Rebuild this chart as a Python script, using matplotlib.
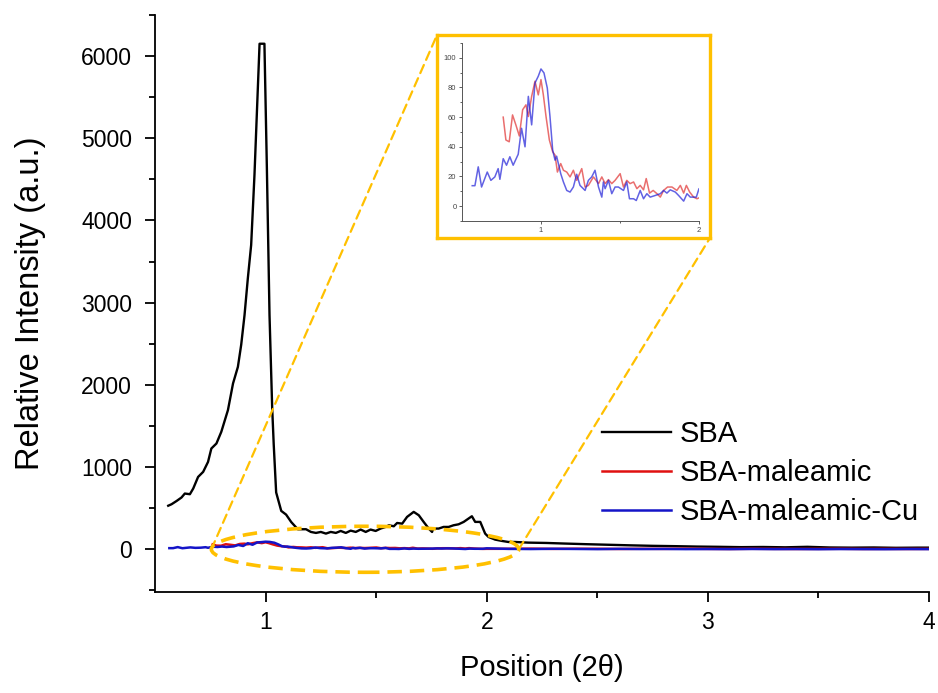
import numpy as np
import matplotlib
matplotlib.use("Agg")
import matplotlib.pyplot as plt
from matplotlib.patches import Ellipse, ConnectionPatch

plt.rcParams["font.family"] = ["Liberation Sans", "DejaVu Sans"]

# SBA (black) pattern
sba_x = [0.56, 0.575, 0.598, 0.62, 0.635, 0.658, 0.673, 0.695, 0.718, 0.74, 0.755,
         0.778, 0.80, 0.83, 0.853, 0.875, 0.89, 0.905, 0.92, 0.935, 0.95, 0.961,
         0.973, 0.995, 1.006, 1.018, 1.03, 1.037, 1.048, 1.071, 1.093, 1.116, 1.146,
         1.183, 1.205, 1.228, 1.25, 1.273, 1.295, 1.318, 1.34, 1.363, 1.385, 1.408,
         1.43, 1.453, 1.475, 1.498, 1.52, 1.543, 1.558, 1.58, 1.595, 1.618, 1.64,
         1.67, 1.693, 1.715, 1.738, 1.753, 1.758, 1.783, 1.805, 1.828, 1.85, 1.873,
         1.896, 1.918, 1.933, 1.948, 1.971, 1.993, 2.008, 2.038, 2.068, 2.098, 2.128,
         2.188, 2.27, 2.35, 2.45, 2.55, 2.65, 2.75, 2.85, 2.95, 3.05, 3.15, 3.25,
         3.35, 3.45, 3.55, 3.65, 3.75, 3.85, 3.95, 4.0]
sba_y = [530, 548, 588, 630, 678, 670, 739, 880, 942, 1063, 1226,
         1287, 1429, 1693, 2017, 2219, 2489, 2848, 3297, 3702, 4555, 5319,
         6150, 6150, 4645, 2848, 1725, 1276, 692, 467, 422, 332, 243,
         244, 211, 199, 211, 191, 211, 199, 223, 199, 227, 211,
         240, 211, 240, 223, 252, 272, 292, 280, 320, 312, 394,
         455, 414, 333, 252, 211, 252, 252, 272, 272, 292, 304,
         333, 374, 402, 333, 333, 191, 150, 118, 102, 89, 89,
         81, 77, 70, 62, 55, 48, 42, 38, 33, 30, 26, 28,
         24, 30, 22, 20, 22, 18, 20, 20]

# SBA-maleamic (red)
red_x = [0.761, 0.778, 0.799, 0.82, 0.841, 0.863, 0.884, 0.905, 0.92, 0.941, 0.962,
         0.983, 1.0, 1.015, 1.032, 1.053, 1.074, 1.089, 1.104, 1.125, 1.142, 1.163,
         1.184, 1.205, 1.226, 1.258, 1.279, 1.30, 1.332, 1.364, 1.385, 1.406, 1.427,
         1.448, 1.469, 1.501, 1.522, 1.543, 1.564, 1.586, 1.607, 1.628, 1.649, 1.666,
         1.687, 1.71, 1.734, 1.755, 1.776, 1.801, 1.829, 1.86, 1.882, 1.903, 1.92,
         1.941, 1.966, 1.987, 2.0, 2.1, 2.2, 2.3, 2.4, 2.5, 2.6, 2.7, 2.8, 2.9,
         3.0, 3.1, 3.2, 3.3, 3.4, 3.5, 3.6, 3.7, 3.8, 3.9, 4.0]
red_y = [60, 44.6, 43.4, 61.5, 54.8, 47.3, 65, 68.3, 60.4, 74, 84.2,
         75, 85.3, 75, 60.4, 44.6, 36.7, 34.4, 23, 28.7, 24.2, 23,
         19.7, 24.2, 17.4, 25.3, 12.9, 14, 19.7, 15.2, 19.7, 15.2, 17.9,
         15.2, 17.4, 21.9, 12.9, 17.4, 15.2, 16.3, 11.8, 14, 11, 18.6,
         8.8, 10.6, 8.4, 6.1, 10.6, 12.9, 12.9, 10.6, 14, 8.8, 14,
         9.5, 6.1, 5, 5.6, 6, 8, 5, 7, 6, 4, 6, 5, 7,
         5, 4, 6, 5, 4, 5, 6, 4, 5, 4, 5]

# SBA-maleamic-Cu (blue)
blue_x = [0.565, 0.582, 0.603, 0.624, 0.66, 0.683, 0.708, 0.729, 0.74, 0.761, 0.782,
          0.803, 0.824, 0.856, 0.877, 0.899, 0.92, 0.941, 0.962, 0.983, 1.0, 1.019,
          1.04, 1.057, 1.074, 1.089, 1.099, 1.11, 1.125, 1.142, 1.163, 1.184, 1.205,
          1.226, 1.247, 1.279, 1.30, 1.321, 1.342, 1.364, 1.385, 1.395, 1.406, 1.427,
          1.448, 1.469, 1.49, 1.522, 1.543, 1.56, 1.586, 1.603, 1.628, 1.649, 1.67,
          1.691, 1.723, 1.755, 1.776, 1.797, 1.818, 1.85, 1.871, 1.903, 1.924, 1.945,
          1.966, 1.983, 2.0, 2.1, 2.2, 2.3, 2.4, 2.5, 2.6, 2.7, 2.8, 2.9, 3.0,
          3.1, 3.2, 3.3, 3.4, 3.5, 3.6, 3.7, 3.8, 3.9, 4.0]
blue_y = [13.8, 13.8, 26.5, 12.9, 23, 17.4, 19.7, 25.3, 18.1, 32, 27.6,
          33.3, 27.6, 35, 52.5, 40, 74, 54.8, 83, 87.6, 92.5, 89.8,
          79.6, 60.4, 37.8, 31, 33.7, 28.7, 21.9, 16.3, 10.6, 9.5, 12.9,
          21.5, 14, 10.6, 17.4, 19.7, 24.2, 12.9, 6.1, 16.3, 11.8, 17.4,
          8.4, 12.9, 12.9, 10.6, 16.3, 5, 5, 3.8, 10.6, 5, 8.4,
          6.1, 7.2, 8.4, 10.6, 8.8, 11, 9.5, 7.2, 3.4, 8.4, 6.1,
          6.1, 6.1, 11.8, 5, 3, 6, 4, 2, 5, 3, 4, 2, 3,
          2, 4, 2, 3, 1, 3, 2, 1, 3, 2]

x_ticks = [1, 2, 3, 4]
y_ticks = [0, 1000, 2000, 3000, 4000, 5000, 6000]
inset_y_ticks = [0, 20, 40, 60, 80, 100]

gold = "#FFC000"

fig = plt.figure(figsize=(9.38, 6.93), dpi=100)
ax = fig.add_axes([0.1652, 0.1457, 0.8252, 0.8327])

ax.plot(sba_x, sba_y, color="black", lw=1.7, label="SBA")
ax.plot(red_x, red_y, color="#e01010", lw=1.8, label="SBA-maleamic")
ax.plot(blue_x, blue_y, color="#1414c8", lw=1.8, label="SBA-maleamic-Cu")

ax.set_xlim(0.5, 4.0)
ax.set_ylim(-520, 6500)
ax.set_xticks(x_ticks)
ax.set_xticks([1.5, 2.5, 3.5], minor=True)
ax.set_yticks(y_ticks)
ax.set_yticks(np.arange(-500, 6501, 500), minor=True)
ax.tick_params(axis="both", which="major", length=7, width=1.3, labelsize=16.5)
ax.tick_params(axis="y", which="major", pad=9.5)
ax.tick_params(axis="x", which="major", pad=7)
ax.tick_params(axis="both", which="minor", length=4, width=1.3)
for s in ["top", "right"]:
    ax.spines[s].set_visible(False)
for s in ["left", "bottom"]:
    ax.spines[s].set_linewidth(1.3)
ax.set_xlabel("Position (2θ)", fontsize=21, labelpad=14)
ax.set_ylabel("Relative Intensity (a.u.)", fontsize=23.5, labelpad=25)

ax.legend(loc="upper left", bbox_to_anchor=(0.544, 0.344), frameon=False, fontsize=21,
          handlelength=2.35, labelspacing=0.38, handletextpad=0.3)

# zoom ellipse in the main axes
ell = Ellipse((1.45, 0), 1.39, 560, fill=False, edgecolor=gold, lw=2.6,
              linestyle=(0, (4, 2.2)), zorder=5)
ax.add_patch(ell)

# inset frame
box = fig.add_axes([0.4659, 0.6566, 0.2910, 0.2929])
box.set_xticks([])
box.set_yticks([])
for s in box.spines.values():
    s.set_color(gold)
    s.set_linewidth(2.4)
box.patch.set_facecolor("white")

for xa, xb in [((0.755, 0), (0, 1)), ((2.145, 0), (1, 0))]:
    con = ConnectionPatch(xyA=xa, coordsA=ax.transData, xyB=xb, coordsB=box.transAxes,
                          color=gold, lw=1.6, linestyle=(0, (4, 2.5)), zorder=6)
    fig.add_artist(con)

ins = fig.add_axes([0.4925, 0.6811, 0.2527, 0.2569])
ins.plot(red_x, red_y, color="#e03030", lw=1.1, alpha=0.7)
ins.plot(blue_x, blue_y, color="#2020d8", lw=1.1, alpha=0.7)
ins.set_xlim(0.5, 2.0)
ins.set_ylim(-10, 110)
ins.set_xticks([1, 2])
ins.set_xticks([1.5], minor=True)
ins.set_yticks(inset_y_ticks)
ins.set_yticks(np.arange(-10, 111, 10), minor=True)
ins.tick_params(axis="both", which="major", length=2.5, width=0.6, labelsize=5.5,
                pad=1.5, colors="#444444")
ins.tick_params(axis="both", which="minor", length=1.5, width=0.6, colors="#444444")
for s in ["top", "right"]:
    ins.spines[s].set_visible(False)
for s in ["left", "bottom"]:
    ins.spines[s].set_linewidth(0.7)
    ins.spines[s].set_color("#555555")
ins.patch.set_alpha(0)

fig.savefig("out.png", dpi=100)
